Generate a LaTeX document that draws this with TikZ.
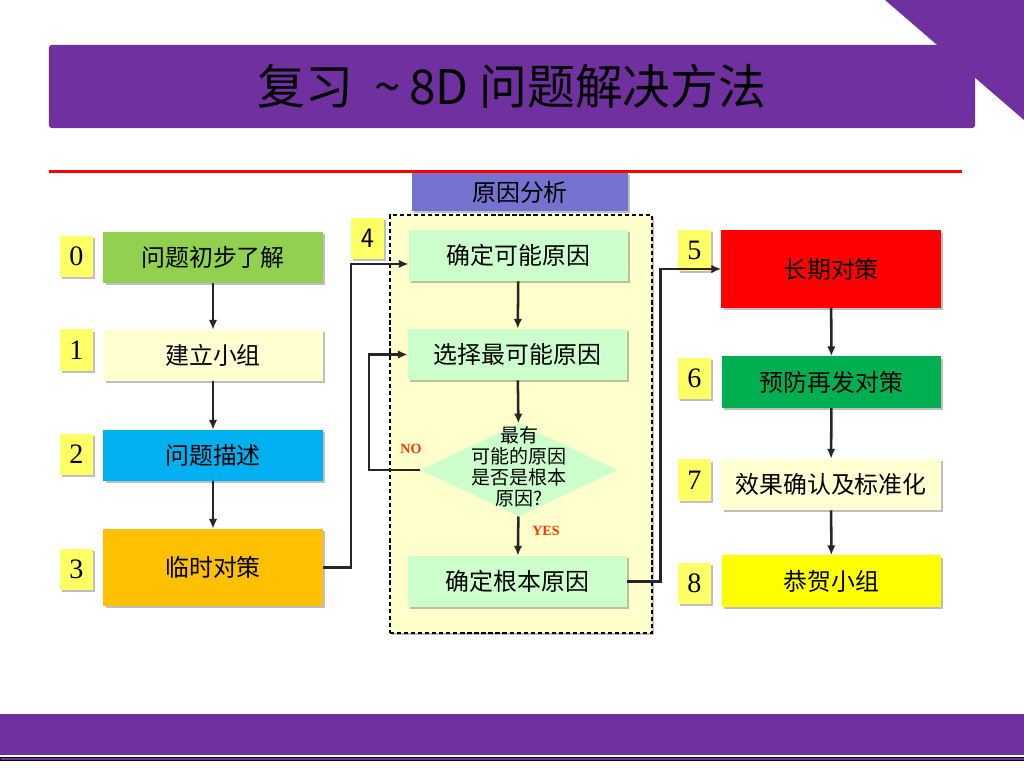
\documentclass[tikz,border=0pt]{standalone}
\usepackage{fontspec}
\setmainfont{Noto Sans CJK SC}
\newfontfamily\numfont{Liberation Serif}
\usepackage{tikz}
\usetikzlibrary{arrows.meta, positioning, shapes.geometric, shadows}
\definecolor{slidepurple}{HTML}{7030A0}
\definecolor{causeblue}{HTML}{7474D0}
\definecolor{numyellow}{HTML}{FFFF66}
\definecolor{paleyellow}{HTML}{FFFFD2}
\definecolor{areayellow}{HTML}{FFFFCC}
\definecolor{mint}{HTML}{CCFFCC}
\definecolor{stepgreen}{HTML}{92D050}
\definecolor{stepblue}{HTML}{00B0F0}
\definecolor{steporange}{HTML}{FFC000}
\definecolor{stepred}{HTML}{FF0000}
\definecolor{stepdkgreen}{HTML}{00B050}
\definecolor{stepyellow}{HTML}{FFFF00}
\definecolor{labelred}{HTML}{FF3300}

\begin{document}
\begin{tikzpicture}[
    x=0.025cm, y=-0.025cm,
    softshadow/.style={drop shadow={shadow xshift=1.5pt, shadow yshift=-1.5pt,
                       opacity=0.25, fill=black}},
    stepbox/.style={minimum width=5.475cm, minimum height=1.275cm,
                    inner sep=0pt, font=\fontsize{17}{20}\selectfont, softshadow},
    tallbox/.style={stepbox, minimum height=1.925cm},
    causebox/.style={stepbox, fill=mint},
    numbox/.style={fill=numyellow, minimum width=0.825cm, minimum height=1.025cm,
                   inner sep=0pt, font=\numfont\fontsize{20}{22}\selectfont, softshadow},
    yesno/.style={font=\numfont\bfseries\fontsize{10}{12}\selectfont, text=labelred},
    flow/.style={-{Latex[length=7pt, width=6pt]}, line width=1.8pt, draw=black!85}
  ]
    \useasboundingbox (0,0) rectangle (1024,768);

    % Header
    \fill[slidepurple] (885,0) -- (1024,0) -- (1024,120) -- cycle;
    \node[fill=slidepurple, rounded corners=2pt, minimum width=23.15cm,
          minimum height=2.075cm, inner sep=0pt,
          font=\fontsize{34}{40}\selectfont] (title) at (512,86.5)
      {复习\ \ \textasciitilde\,8D 问题解决方法};
    \fill[red] (49,170.5) rectangle (962,173.5);

    % Footer
    \fill[slidepurple] (0,714) rectangle (1024,755);
    \filldraw[fill=slidepurple, draw=black, thin] (0,757.5) rectangle (1024,760);

    % Left column
    \node[stepbox, fill=stepgreen]  (s0) at (213,257.5) {问题初步了解};
    \node[stepbox, fill=paleyellow] (s1) at (213,355.5) {建立小组};
    \node[stepbox, fill=stepblue]   (s2) at (213,455.5) {问题描述};
    \node[tallbox, fill=steporange] (s3) at (213,567.5) {临时对策};
    \node[numbox] (n0) at (76.5,256.5) {0};
    \node[numbox] (n1) at (76.5,350)   {1};
    \node[numbox] (n2) at (76.5,454.5) {2};
    \node[numbox] (n3) at (76.5,569.5) {3};

    % Cause analysis area
    \node[draw, dash pattern=on 3pt off 2pt, line width=1.6pt, fill=areayellow,
          minimum width=6.55cm, minimum height=10.45cm, inner sep=0pt,
          softshadow] (area) at (521,424) {};
    \node[fill=causeblue, minimum width=5.4cm, minimum height=0.95cm, inner sep=0pt,
          font=\fontsize{17}{20}\selectfont, softshadow] (cause) at (520,192) {原因分析};
    \node[numbox, font=\sffamily\fontsize{20}{22}\selectfont] (n4) at (367.5,238.5) {4};
    \node[causebox] (m1) at (518.5,255.5) {确定可能原因};
    \node[causebox] (m2) at (517.5,354.5) {选择最可能原因};
    \node[diamond, fill=mint, minimum width=4.925cm, minimum height=2.325cm,
          inner sep=0pt] (dia) at (519,470) {};
    \node[align=center, font=\fontsize{13.5}{15}\selectfont] (diatext) at (519,467)
      {最有\\可能的原因\\是否是根本\\原因?};
    \node[causebox] (m4) at (517.5,581.5) {确定根本原因};
    \node[yesno] (no)  at (411,449) {NO};
    \node[yesno] (yes) at (546,531) {YES};

    % Right column
    \node[tallbox, fill=stepred]     (r5) at (831,269)   {长期对策};
    \node[stepbox, fill=stepdkgreen] (r6) at (831.5,382) {预防再发对策};
    \node[stepbox, fill=paleyellow]  (r7) at (831,484.5) {效果确认及标准化};
    \node[stepbox, fill=stepyellow]  (r8) at (831.5,581) {恭贺小组};
    \node[numbox] (n5) at (694.5,250.5) {5};
    \node[numbox] (n6) at (694.5,378.5) {6};
    \node[numbox] (n7) at (694.5,480)   {7};
    \node[numbox] (n8) at (694.5,583)   {8};

    % Connections
    \foreach \a/\b in {s0/s1, s1/s2, s2/s3, m1/m2, m2/dia, dia/m4, r5/r6, r6/r7, r7/r8}
      \draw[flow] (\a) -- (\b);
    \draw[flow] (s3.east) -- ++(28,0) |- ([yshift=-6pt]m1.west);
    \draw[flow] (dia.west) -- ++(-51,0) |- (m2.west);
    \draw[flow] (m4.east) -- ++(33,0) |- (r5.west);
  \end{tikzpicture}
\end{document}
